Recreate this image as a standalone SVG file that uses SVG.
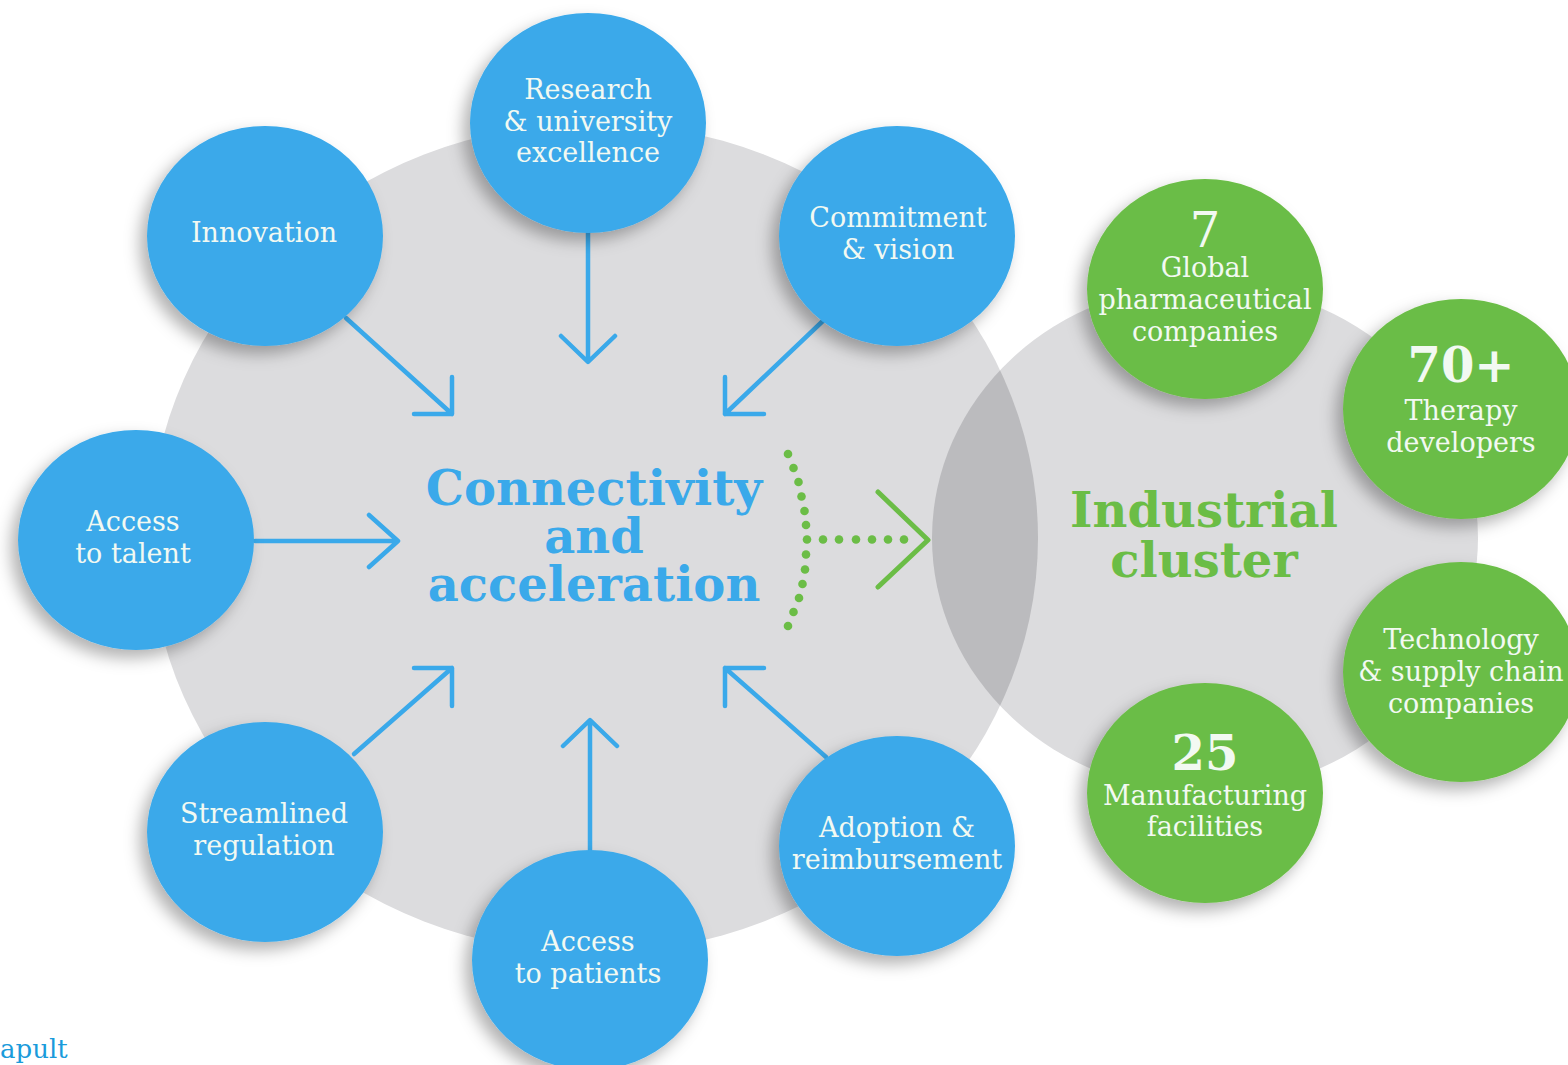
<svg xmlns="http://www.w3.org/2000/svg" width="1568" height="1065" viewBox="0 0 1568 1065">
<defs>
<style>
.blue{fill:#3AA9EA}
.green{fill:#6BBD46}
.lbl{font-family:"DejaVu Serif","Liberation Serif",serif;font-size:27px;fill:#F2F9F2;text-anchor:middle}
.num{font-family:"DejaVu Serif","Liberation Serif",serif;font-size:48px;fill:#F2F9F2;text-anchor:middle}
.big{font-family:"DejaVu Serif","Liberation Serif",serif;font-weight:bold;font-size:48px;text-anchor:middle}
.arr{fill:none;stroke:#3AA9EA;stroke-width:4.5;stroke-linecap:round;stroke-linejoin:round}
.garr{fill:none;stroke:#6BBD46;stroke-width:5;stroke-linecap:round;stroke-linejoin:round}
.dot{fill:#6BBD46}
</style>
<filter id="sh" x="-30%" y="-30%" width="160%" height="160%">
<feDropShadow dx="-7" dy="8" stdDeviation="8" flood-color="#000" flood-opacity="0.3"/>
</filter>
<clipPath id="rightClip"><ellipse cx="1205" cy="538" rx="273" ry="254"/></clipPath>
</defs>
<rect width="1568" height="1065" fill="#FFFFFF"/>
<g id="background">
<ellipse cx="594" cy="538" rx="444" ry="415" fill="#DCDCDE"/>
<ellipse cx="1205" cy="538" rx="273" ry="254" fill="#DCDCDE"/>
<ellipse cx="594" cy="538" rx="444" ry="415" fill="#BBBBBE" clip-path="url(#rightClip)"/>
</g>
<g id="connectors">
<path class="arr" d="M588,233 V361 M561,336 L588,362 L615,336"/>
<path class="arr" d="M346,318 L452,414 M452,377 V414 H414"/>
<path class="arr" d="M826,318 L725,414 M725,377 V414 H764"/>
<path class="arr" d="M255,541 H397 M369,515 L398,541 L369,567"/>
<path class="arr" d="M354,754 L452,668 M452,706 V668 H414"/>
<path class="arr" d="M826,757 L725,668 M725,706 V668 H764"/>
<path class="arr" d="M590,850 V721 M563,746 L590,720 L617,746"/>
<g id="green-link">
<circle class="dot" cx="788" cy="454" r="4.3"/>
<circle class="dot" cx="793.5" cy="468" r="4.3"/>
<circle class="dot" cx="798.5" cy="482" r="4.3"/>
<circle class="dot" cx="801.5" cy="496.5" r="4.3"/>
<circle class="dot" cx="804.5" cy="511" r="4.3"/>
<circle class="dot" cx="806" cy="525" r="4.3"/>
<circle class="dot" cx="807" cy="539.5" r="4.3"/>
<circle class="dot" cx="806" cy="554.5" r="4.3"/>
<circle class="dot" cx="805" cy="569.5" r="4.3"/>
<circle class="dot" cx="802.5" cy="584" r="4.3"/>
<circle class="dot" cx="799" cy="598" r="4.3"/>
<circle class="dot" cx="793.5" cy="612" r="4.3"/>
<circle class="dot" cx="788" cy="626" r="4.3"/>
<circle class="dot" cx="823" cy="539.5" r="4.3"/>
<circle class="dot" cx="839" cy="539.5" r="4.3"/>
<circle class="dot" cx="856" cy="539.5" r="4.3"/>
<circle class="dot" cx="872" cy="539.5" r="4.3"/>
<circle class="dot" cx="888" cy="539.5" r="4.3"/>
<circle class="dot" cx="904" cy="539.5" r="4.3"/>
<path class="garr" d="M878,492 L928,540 L878,587"/>
</g>
</g>
<g id="center-label">
<text class="big" fill="#3AA9EA" x="594" y="505">Connectivity</text>
<text class="big" fill="#3AA9EA" x="594" y="553">and</text>
<text class="big" fill="#3AA9EA" x="594" y="601" font-size="46">acceleration</text>
</g>
<g id="cluster-label">
<text class="big" fill="#6BBD46" x="1204" y="527">Industrial</text>
<text class="big" fill="#6BBD46" x="1204" y="577">cluster</text>
</g>
<g id="research">
<ellipse class="blue" cx="588" cy="123" rx="118" ry="110" filter="url(#sh)"/>
<text class="lbl" x="588" y="99">Research</text>
<text class="lbl" x="588" y="131">&amp; university</text>
<text class="lbl" x="588" y="162">excellence</text>
</g>
<g id="innovation">
<ellipse class="blue" cx="265" cy="236" rx="118" ry="110" filter="url(#sh)"/>
<text class="lbl" x="264" y="242">Innovation</text>
</g>
<g id="commitment">
<ellipse class="blue" cx="897" cy="236" rx="118" ry="110" filter="url(#sh)"/>
<text class="lbl" x="898" y="227">Commitment</text>
<text class="lbl" x="898" y="259">&amp; vision</text>
</g>
<g id="talent">
<ellipse class="blue" cx="136" cy="540" rx="118" ry="110" filter="url(#sh)"/>
<text class="lbl" x="133" y="531">Access</text>
<text class="lbl" x="133" y="563">to talent</text>
</g>
<g id="regulation">
<ellipse class="blue" cx="265" cy="832" rx="118" ry="110" filter="url(#sh)"/>
<text class="lbl" x="264" y="823">Streamlined</text>
<text class="lbl" x="264" y="855">regulation</text>
</g>
<g id="adoption">
<ellipse class="blue" cx="897" cy="846" rx="118" ry="110" filter="url(#sh)"/>
<text class="lbl" x="897" y="837">Adoption &amp;</text>
<text class="lbl" x="897" y="869">reimbursement</text>
</g>
<g id="patients">
<ellipse class="blue" cx="590" cy="960" rx="118" ry="110" filter="url(#sh)"/>
<text class="lbl" x="588" y="951">Access</text>
<text class="lbl" x="588" y="983">to patients</text>
</g>
<g id="pharma">
<ellipse class="green" cx="1205" cy="289" rx="118" ry="110" filter="url(#sh)"/>
<text class="num" x="1205" y="247">7</text>
<text class="lbl" x="1205" y="277">Global</text>
<text class="lbl" x="1205" y="309">pharmaceutical</text>
<text class="lbl" x="1205" y="341">companies</text>
</g>
<g id="therapy">
<ellipse class="green" cx="1461" cy="409" rx="118" ry="110" filter="url(#sh)"/>
<text class="num" x="1461" y="382" font-weight="bold">70+</text>
<text class="lbl" x="1461" y="420">Therapy</text>
<text class="lbl" x="1461" y="452">developers</text>
</g>
<g id="technology">
<ellipse class="green" cx="1461" cy="672" rx="118" ry="110" filter="url(#sh)"/>
<text class="lbl" x="1461" y="649">Technology</text>
<text class="lbl" x="1461" y="681">&amp; supply chain</text>
<text class="lbl" x="1461" y="713">companies</text>
</g>
<g id="manufacturing">
<ellipse class="green" cx="1205" cy="793" rx="118" ry="110" filter="url(#sh)"/>
<text class="num" x="1205" y="770" font-weight="bold">25</text>
<text class="lbl" x="1205" y="805">Manufacturing</text>
<text class="lbl" x="1205" y="836">facilities</text>
</g>
<text x="0" y="1058" font-family="DejaVu Serif, Liberation Serif, serif" font-size="26" fill="#1A9BDB">apult</text>
</svg>
